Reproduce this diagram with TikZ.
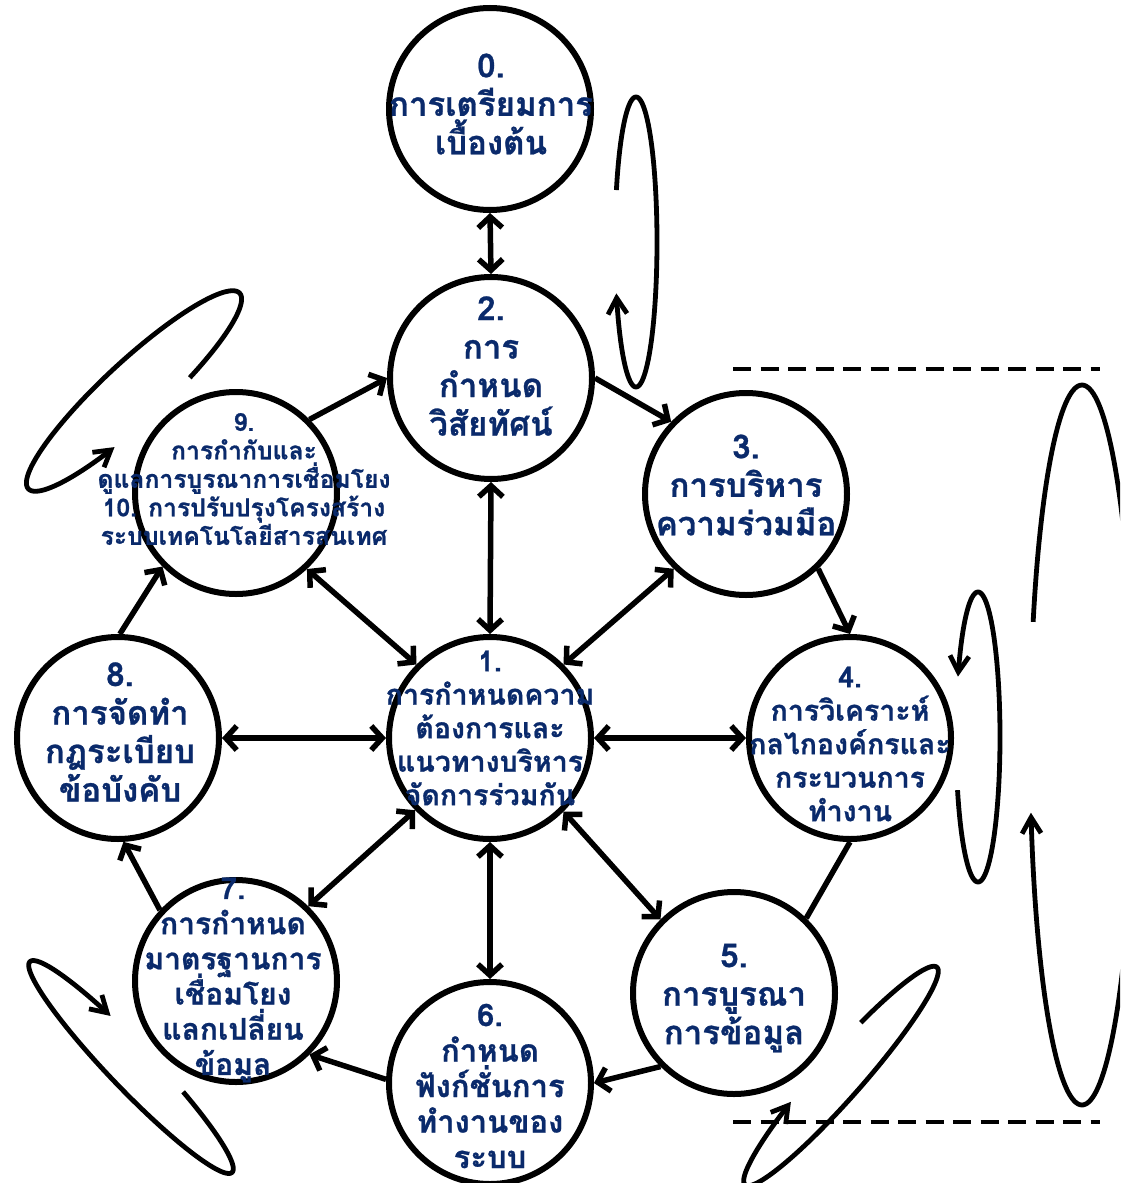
\documentclass[tikz,border=0pt]{standalone}
\usepackage{fontspec}
\newfontfamily\thaifont[Script=Thai,BoldFeatures={FakeBold=0.8}]{Loma}
\usetikzlibrary{arrows.meta}
\definecolor{navy}{HTML}{0A2A6B}
\newcommand\drawloope[8]{%
  \draw[lp] plot[domain=0:1,samples=160,variable=\t]
   ({#1+#5*cos(#7+(#8-(#7))*\t)*cos(#3)+#6*sin(#7+(#8-(#7))*\t)*cos(#4)},
    {#2+#5*cos(#7+(#8-(#7))*\t)*sin(#3)+#6*sin(#7+(#8-(#7))*\t)*sin(#4)});}
\tikzset{
  bub/.style={circle, draw=black, line width=6pt, fill=white, minimum size=202pt, inner sep=0pt},
  lbl/.style={text=navy, align=center, inner sep=0pt},
  lblbig/.style={lbl, font={\thaifont\bfseries\fontsize{33}{38.5}\selectfont\lineskiplimit=-100pt}},
  lblmid/.style={lbl, font={\thaifont\bfseries\fontsize{28.5}{33.5}\selectfont\lineskiplimit=-100pt}},
  lblsev/.style={lbl, font={\thaifont\bfseries\fontsize{30}{35.2}\selectfont\lineskiplimit=-100pt}},
  lblsix/.style={lbl, font={\thaifont\bfseries\fontsize{31}{35.5}\selectfont\lineskiplimit=-100pt}},
  lblsml/.style={lbl, font={\thaifont\bfseries\fontsize{24.7}{28.5}\selectfont\lineskiplimit=-100pt}},
  link/.style={line width=5.5pt, -{Straight Barb[length=11pt,width=24pt]}},
  dlink/.style={line width=5.5pt, {Straight Barb[length=11pt,width=24pt]}-{Straight Barb[length=11pt,width=24pt]}},
  plainlink/.style={line width=5.5pt},
  lp/.style={line width=4.8pt, -{Straight Barb[length=16pt,width=19pt]}},
  dsh/.style={line width=4.5pt, dash pattern=on 18pt off 9.5pt}
}
\begin{document}
\begin{tikzpicture}[x=1pt,y=-1pt]
\useasboundingbox (0,0) rectangle (1120,1183);
\clip (0,0) rectangle (1120,1183);
\fill[white] (0,0) rectangle (1120,1183);

% circles
\node[bub] (c0) at (490,109) {};
\node[bub] (c2) at (491,378) {};
\node[bub] (c3) at (746,494) {};
\node[bub] (c4) at (850,738) {};
\node[bub] (c1) at (490,738) {};
\node[bub] (c5) at (734,993) {};
\node[bub] (c6) at (490,1083) {};
\node[bub] (c7) at (236,981) {};
\node[bub] (c8) at (118,738) {};
\node[bub] (c9) at (236,493) {};

% connectors
\draw[dlink] (c0.south) -- (c2.north);
\draw[link] (c9.45) -- (c2.180);
\draw[link] (c2.0) -- (c3.136);
\draw[dlink] (c2.south) -- (c1.north);
\draw[link] (c3.-46) -- (c4.90);
\draw[dlink] (c3.226) -- (c1.45);
\draw[dlink] (c9.-47) -- (c1.135);
\draw[dlink] (c1.east) -- (c4.west);
\draw[dlink] (c8.east) -- (c1.west);
\draw[link] (c8.89) -- (c9.225);
\draw[link] (c7.137) -- (c8.-87);
\draw[dlink] (c1.224) -- (c7.46);
\draw[dlink] (c1.270) -- (c6.90);
\draw[dlink] (c1.315) -- (c5.135);
\draw[plainlink] (c4.270) -- (c5.46);
\draw[link] (c5.225) -- (c6.0);
\draw[link] (c6.178) -- (c7.-45);

% self loops
\drawloope{636}{242}{-90}{180}{145}{21}{69}{-249.4}
\drawloope{134}{391}{-42.8}{47.2}{144}{30}{69.7}{-248.8}
\drawloope{131}{1067}{46.2}{-43.8}{146}{22}{68.3}{-249.7}
\drawloope{841}{1076}{-48.6}{-138.6}{145}{22}{68.5}{-248.9}
\drawloope{978}{737}{90}{180}{145}{22}{68.5}{-245.5}
\drawloope{1082}{745}{-90}{180}{360}{52}{70}{-259.3}

% dashed lines
\draw[dsh] (733,369) -- (1100,369);
\draw[dsh] (733,1122) -- (1100,1122);

% labels
\node[lblbig] (t0) at (491,104) {0.\\การเตรียมการ\\เบื้องต้น};
\node[lblbig] (t2) at (491,366) {2.\\การ\\กำหนด\\วิสัยทัศน์};
\node[lblbig] (t3) at (746,485) {3.\\การบริหาร\\ความร่วมมือ};
\node[lblsml] (t9) at (244,479) {9.\\การกำกับและ\\ดูแลการบูรณาการเชื่อมโยง\\10. การปรับปรุงโครงสร้าง\\ระบบเทคโนโลยีสารสนเทศ};
\node[lblmid] (t1) at (490,728) {1.\\การกำหนดความ\\ต้องการและ\\แนวทางบริหาร\\จัดการร่วมกัน};
\node[lblmid] (t4) at (850,744) {4.\\การวิเคราะห์\\กลไกองค์กรและ\\กระบวนการ\\ทำงาน};
\node[lblbig] (t8) at (120,732) {8.\\การจัดทำ\\กฎระเบียบ\\ข้อบังคับ};
\node[lblsev] (t7) at (233,980) {7.\\การกำหนด\\มาตรฐานการ\\เชื่อมโยง\\แลกเปลี่ยน\\ข้อมูล};
\node[lblsix] (t6) at (490,1086) {6.\\กำหนด\\ฟังก์ชั่นการ\\ทำงานของ\\ระบบ};
\node[lblbig] (t5) at (734,998) {5.\\การบูรณา\\การข้อมูล};
\end{tikzpicture}
\end{document}
